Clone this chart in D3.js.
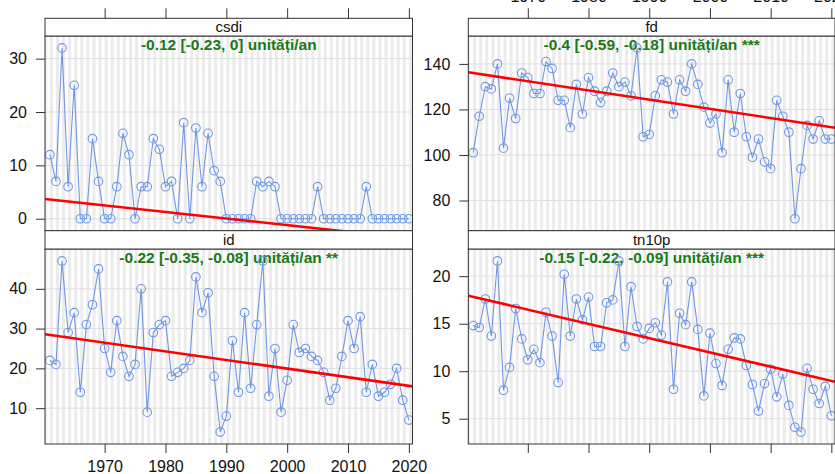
<!DOCTYPE html>
<html><head><meta charset="utf-8">
<script src="https://cdn.jsdelivr.net/npm/d3@7"></script>
<style>
html,body{margin:0;padding:0;background:#fff;}
svg{display:block;font-family:"Liberation Sans",Arial,Helvetica,sans-serif;}
</style></head>
<body><svg id="c" width="835" height="474"></svg>
<script>
// ---- data ----
const firstYear = 1961, lastYear = 2020;
const years = d3.range(firstYear, lastYear + 1);
const panelNames = ["csdi", "fd", "id", "tn10p"];
const csdi = [12,7,32,6,25,0,0,15,7,0, 0,6,16,12,0,6,6,15,13,6, 7,0,18,0,17,6,16,9,7,0,
              0,0,0,0,7,6,7,6,0,0, 0,0,0,0,6,0,0,0,0,0, 0,0,6,0,0,0,0,0,0,0];
const fd = [101,117,130,129,140,103,125,116,136,134, 127,127,141,138,124,124,112,131,118,134,
            128,123,128,136,130,132,126,147,108,109, 126,133,132,118,133,128,140,131,121,114,
            118,101,133,110,127,108,99,107,97,94, 124,117,110,72,94,113,107,115,107,107];
const id = [22,21,47,29,34,14,31,36,45,25, 19,32,23,18,21,40,9,29,31,32,
            18,19,20,22,43,34,39,18,4,8, 27,14,34,15,31,47,13,25,9,17,
            31,24,25,23,22,19,12,15,23,32, 25,33,14,21,13,14,16,20,12,7];
const tn10p = [14.8,14.6,17.6,13.7,21.6,8.0,10.4,16.6,13.4,11.2, 12.3,10.9,16.2,13.7,8.8,20.2,13.7,17.6,15.4,17.8,
               12.6,12.6,17.2,17.5,21.6,12.6,18.9,14.7,13.4,14.5, 15.1,13.8,19.4,8.1,16.1,14.9,19.4,14.4,7.4,14.0,
               10.8,8.5,12.3,13.5,13.4,10.6,8.6,5.8,8.7,10.2, 7.3,9.7,6.4,4.1,3.6,10.3,8.1,6.6,8.4,5.3];
const seriesValues = [csdi, fd, id, tn10p];
// trend line values read at first and last year
const trendFirst = [3.6, 136.0, 28.4, 17.83];
const trendLast = [-3.66, 112.2, 15.6, 8.98];
const annotations = [
  "-0.12 [-0.23, 0] unități/an",
  "-0.4 [-0.59, -0.18] unități/an ***",
  "-0.22 [-0.35, -0.08] unități/an **",
  "-0.15 [-0.22, -0.09] unități/an ***"
];
const yTicks = [[0,10,20,30],[80,100,120,140],[10,20,30,40],[5,10,15,20]];
const xTicks = [1970,1980,1990,2000,2010,2020];

// ---- layout ----
const svg = d3.select("#c");
const colX = [[45, 412.5], [468.3, 835]];
const rowY = [{strip:18.3, top:36, bottom:230.7}, {strip:230.7, top:249, bottom:444}];
const xDom = [1960.2, 2020.6];
const ptColor = "#6f97e6";
const axisColor = "#333";
const fontSize = 16;
const fontFam = "Liberation Sans, Arial, sans-serif";

function styleAxis(sel, showLabels) {
  sel.select(".domain").remove();
  sel.selectAll("line").attr("stroke", axisColor);
  if (showLabels) {
    sel.selectAll("text").attr("font-size", fontSize).attr("font-family", fontFam).attr("fill", "#111");
  } else {
    sel.selectAll("text").remove();
  }
}

panelNames.forEach((name, i) => {
  const col = i % 2, row = Math.floor(i / 2);
  const [x0, x1] = colX[col];
  const {strip, top, bottom} = rowY[row];
  const vals = seriesValues[i];
  const x = d3.scaleLinear().domain(xDom).range([x0, x1]);
  const ext = d3.extent(vals);
  const pad = (ext[1] - ext[0]) * 0.07;
  const y = d3.scaleLinear().domain([ext[0] - pad, ext[1] + pad]).range([bottom, top]);
  const g = svg.append("g");
  const clipId = "clip" + i;
  g.append("clipPath").attr("id", clipId).append("rect")
    .attr("x", x0).attr("y", top).attr("width", x1 - x0).attr("height", bottom - top);
  const body = g.append("g").attr("clip-path", `url(#${clipId})`);
  // panel background + year stripes
  body.append("rect").attr("x", x0).attr("y", top).attr("width", x1 - x0).attr("height", bottom - top).attr("fill", "#fff");
  body.selectAll("rect.stripe").data(d3.range(1958, 2023)).join("rect").attr("class", "stripe")
    .attr("x", d => x(d)).attr("y", top)
    .attr("width", x(1.5) - x(1)).attr("height", bottom - top).attr("fill", "#ececec");
  // horizontal gridlines
  body.selectAll("line.gy").data(yTicks[i]).join("line").attr("class", "gy")
    .attr("x1", x0).attr("x2", x1).attr("y1", d => y(d)).attr("y2", d => y(d))
    .attr("stroke", "#dedede").attr("stroke-width", 1);
  // annotation
  body.append("text").attr("x", (x0 + x1) / 2).attr("y", top + 13.5)
    .attr("text-anchor", "middle").attr("font-weight", "bold").attr("font-size", 15.5)
    .attr("fill", "#187a18").text(annotations[i]);
  // series
  const pts = years.map((yr, k) => [yr, vals[k]]);
  body.append("path").datum(pts)
    .attr("d", d3.line().x(d => x(d[0])).y(d => y(d[1])))
    .attr("fill", "none").attr("stroke", ptColor).attr("stroke-width", 1.1);
  body.selectAll("circle").data(pts).join("circle")
    .attr("cx", d => x(d[0])).attr("cy", d => y(d[1])).attr("r", 4.3)
    .attr("fill", "none").attr("stroke", ptColor).attr("stroke-width", 1.1);
  // trend
  const slope = (trendLast[i] - trendFirst[i]) / (lastYear - firstYear);
  const tv = yr => trendFirst[i] + slope * (yr - firstYear);
  body.append("line")
    .attr("x1", x(xDom[0])).attr("y1", y(tv(xDom[0])))
    .attr("x2", x(xDom[1])).attr("y2", y(tv(xDom[1])))
    .attr("stroke", "#f00").attr("stroke-width", 2.6);
  // panel border
  g.append("rect").attr("x", x0).attr("y", top).attr("width", x1 - x0).attr("height", bottom - top)
    .attr("fill", "none").attr("stroke", axisColor).attr("stroke-width", 1);
  // strip
  g.append("rect").attr("x", x0).attr("y", strip).attr("width", x1 - x0).attr("height", top - strip)
    .attr("fill", "#fff").attr("stroke", axisColor).attr("stroke-width", 1);
  g.append("text").attr("x", (x0 + x1) / 2).attr("y", strip + 14).attr("text-anchor", "middle")
    .attr("font-size", 15).attr("fill", "#111").text(name);
  // y axis (left)
  const ya = g.append("g").attr("transform", `translate(${x0},0)`)
    .call(d3.axisLeft(y).tickValues(yTicks[i]).tickSize(9).tickPadding(9));
  styleAxis(ya, true);
  // x axes
  if (row === 0) {
    const xa = g.append("g").attr("transform", `translate(0,${strip})`)
      .call(d3.axisTop(x).tickValues(xTicks).tickSize(10).tickPadding(6).tickFormat(d3.format("d")));
    styleAxis(xa, col === 1);
  } else {
    const xa = g.append("g").attr("transform", `translate(0,${bottom})`)
      .call(d3.axisBottom(x).tickValues(xTicks).tickSize(9).tickPadding(8).tickFormat(d3.format("d")));
    styleAxis(xa, col === 0);
  }
});
</script></body></html>
